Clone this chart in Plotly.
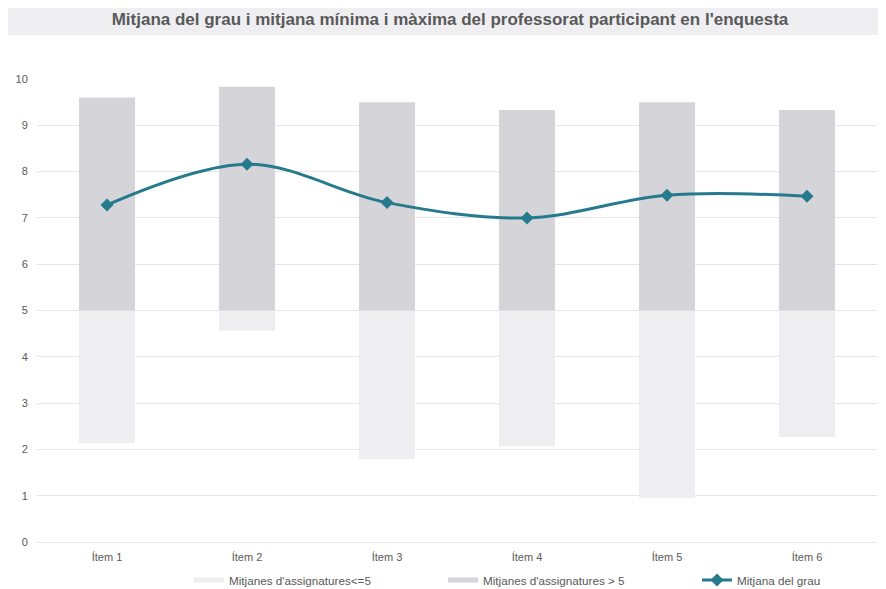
import plotly.graph_objects as go

categories = ["Ítem 1", "Ítem 2", "Ítem 3", "Ítem 4", "Ítem 5", "Ítem 6"]
min_vals = [2.14, 4.56, 1.79, 2.07, 0.95, 2.27]
max_vals = [9.60, 9.83, 9.50, 9.33, 9.50, 9.33]
mean_vals = [7.28, 8.16, 7.33, 7.00, 7.49, 7.47]
threshold = 5

FONT = "Liberation Sans, Arial, sans-serif"
TXT = "#595959"
LIGHT = "#eeeef0"
DARK = "#d5d5d9"
TEAL = "#267a8d"

W, H = 878, 581
L, R, T, B = 29, 9, 71, 47
PW, PH = W - L - R, H - T - B

fig = go.Figure()
fig.add_trace(go.Bar(
    x=categories, y=[threshold - v for v in min_vals], base=min_vals,
    name="Mitjanes d'assignatures<=5", marker=dict(color=LIGHT, line=dict(width=0)),
    width=0.4, showlegend=False,
))
fig.add_trace(go.Bar(
    x=categories, y=[v - threshold for v in max_vals], base=[threshold] * len(max_vals),
    name="Mitjanes d'assignatures > 5", marker=dict(color=DARK, line=dict(width=0)),
    width=0.4, showlegend=False,
))
# legend-only entries mimicking thin wide swatches
fig.add_trace(go.Scatter(x=[None], y=[None], mode="lines", name="Mitjanes d'assignatures<=5",
                         line=dict(color=LIGHT, width=5)))
fig.add_trace(go.Scatter(x=[None], y=[None], mode="lines", name="Mitjanes d'assignatures > 5",
                         line=dict(color=DARK, width=5)))
fig.add_trace(go.Scatter(
    x=categories, y=mean_vals, name="Mitjana del grau", mode="lines+markers",
    line=dict(color=TEAL, width=3, shape="spline", smoothing=1),
    marker=dict(symbol="diamond", size=10, color=TEAL),
))

fig.update_layout(
    width=W, height=H,
    margin=dict(l=L, r=R, t=T, b=B, autoexpand=False),
    paper_bgcolor="white", plot_bgcolor="white",
    barmode="overlay",
    font=dict(family=FONT, size=11, color=TXT),
    title=dict(
        text="<b>Mitjana del grau i mitjana mínima i màxima del professorat participant en l'enquesta</b>",
        x=442 / W, xanchor="center", xref="container", y=1 - 11 / H, yanchor="middle",
        font=dict(family=FONT, size=17, color=TXT),
    ),
    showlegend=True,
    legend=dict(orientation="h", xref="container", yref="paper",
                x=181 / W, xanchor="left", y=-38 / PH, yanchor="middle",
                bgcolor="rgba(0,0,0,0)",
                font=dict(family=FONT, size=11.7, color=TXT), entrywidth=209,
                traceorder="normal"),
    shapes=[dict(type="rect", xref="paper", yref="paper",
                 x0=-L / PW, x1=(W - L) / PW,
                 y0=(PH + T - 27) / PH, y1=(PH + T + 5) / PH,
                 fillcolor="#efeff1", line=dict(width=0), layer="below")],
)
fig.update_yaxes(range=[0, 10], dtick=1, gridcolor="#e6e6e6", gridwidth=1,
                 zeroline=False, showline=False, ticks="outside", ticklen=6,
                 tickcolor="rgba(0,0,0,0)",
                 tickfont=dict(color=TXT, size=11))
fig.update_xaxes(showgrid=False, showline=True, linecolor="#e6e6e6", linewidth=1,
                 ticks="outside", ticklen=5, tickcolor="rgba(0,0,0,0)",
                 tickfont=dict(color=TXT, size=11))

fig.write_html("out.html")
